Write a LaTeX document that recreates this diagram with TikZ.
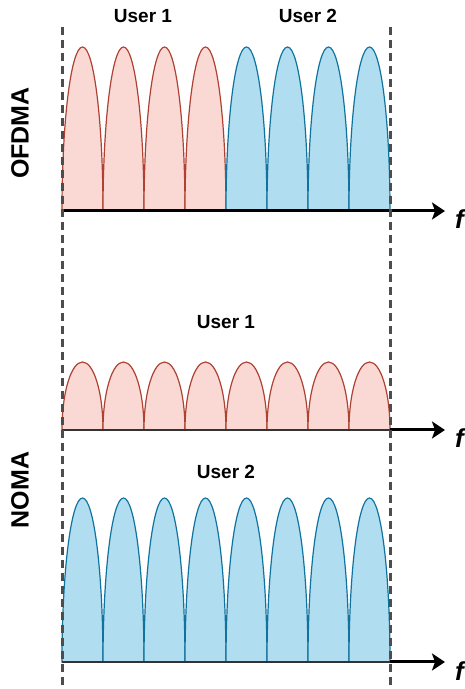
\documentclass[tikz,border=0pt]{standalone}
\usepackage{fontspec}
\setmainfont{Liberation Sans}
\usetikzlibrary{arrows.meta}
\definecolor{rfill}{HTML}{FAD9D5}
\definecolor{rline}{HTML}{AE4132}
\definecolor{bfill}{HTML}{B1DDF0}
\definecolor{bline}{HTML}{10739E}
\definecolor{dgray}{HTML}{4D4D4D}
\tikzset{
  redlobe/.style={fill=rfill,draw=rline,line width=1.2pt},
  bluelobe/.style={fill=bfill,draw=bline,line width=1.2pt},
  axisarrow/.style={line width=3pt,-{Stealth[length=13pt,width=17pt,inset=3pt]}},
  baseline/.style={line width=1.5pt,draw=black!80},
  guide/.style={dgray,line width=3pt,dash pattern=on 8pt off 5pt},
  userlbl/.style={font=\bfseries\fontsize{19}{21}\selectfont,inner sep=0pt},
  rowlbl/.style={font=\bfseries\fontsize{25}{27}\selectfont,inner sep=0pt,rotate=90},
  flbl/.style={font=\bfseries\itshape\fontsize{26}{28}\selectfont,inner sep=0pt,anchor=base west}
}
\begin{document}
\begin{tikzpicture}[x=1pt,y=1pt]
\useasboundingbox (0,0) rectangle (464,689);
% OFDMA lobes
\foreach \i in {0,1,2,3}{
  \path[redlobe] (62+41*\i,478) arc[start angle=180,end angle=0,x radius=20.5,y radius=164] -- cycle;
}
\foreach \i in {4,5,6,7}{
  \path[bluelobe] (62+41*\i,478) arc[start angle=180,end angle=0,x radius=20.5,y radius=164] -- cycle;
}
% NOMA user 1 lobes
\foreach \i in {0,...,7}{
  \path[redlobe] (62+41*\i,259) arc[start angle=180,end angle=0,x radius=20.5,y radius=68] -- cycle;
}
% NOMA user 2 lobes
\foreach \i in {0,...,7}{
  \path[bluelobe] (62+41*\i,27) arc[start angle=180,end angle=0,x radius=20.5,y radius=164] -- cycle;
}
% axes
\coordinate (a1s) at (62,478);
\coordinate (a1e) at (445,478);
\draw[axisarrow] (a1s) -- (a1e);
\coordinate (a2s) at (62,259);
\coordinate (a2m) at (390,259);
\coordinate (a2e) at (445,259);
\draw[baseline] (a2s) -- (a2m);
\draw[axisarrow] (a2m) -- (a2e);
\coordinate (a3s) at (62,27);
\coordinate (a3m) at (390,27);
\coordinate (a3e) at (445,27);
\draw[baseline] (a3s) -- (a3m);
\draw[axisarrow] (a3m) -- (a3e);
% guides
\coordinate (gl1) at (62,662);
\coordinate (gl2) at (62,0);
\coordinate (gr1) at (390,662);
\coordinate (gr2) at (390,0);
\draw[guide] (gl1) -- (gl2);
\draw[guide] (gr1) -- (gr2);
% labels
\node[userlbl] (u1a) at (143,673) {User 1};
\node[userlbl] (u2a) at (308,673) {User 2};
\node[userlbl] (u1b) at (226,367) {User 1};
\node[userlbl] (u2b) at (226,217) {User 2};
\node[rowlbl] (ofdma) at (20,556) {OFDMA};
\node[rowlbl] (noma) at (20,199) {NOMA};
\node[flbl] (f1) at (455,460) {f};
\node[flbl] (f2) at (455,241) {f};
\node[flbl] (f3) at (455,9) {f};
\end{tikzpicture}
\end{document}
